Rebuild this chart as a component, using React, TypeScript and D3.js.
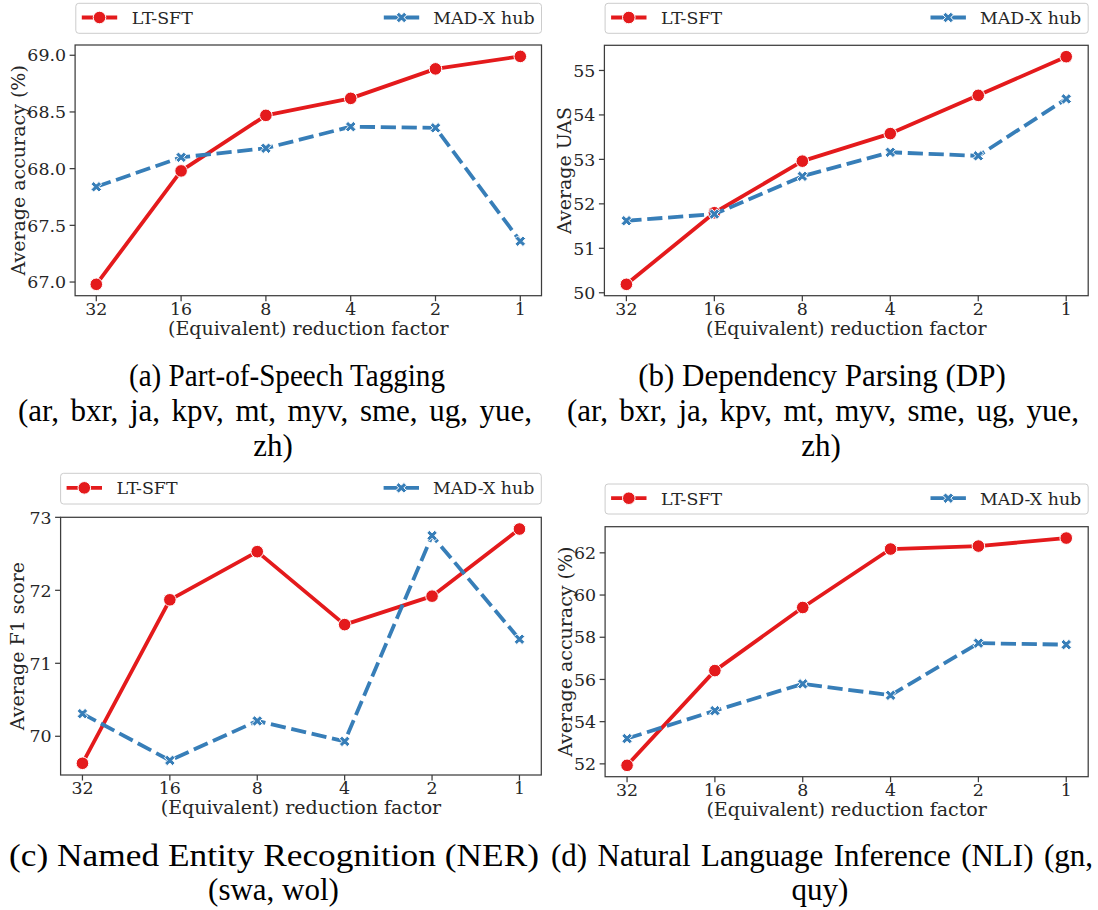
import React, { useLayoutEffect, useRef } from "react";
import * as d3 from "d3";

// Reduction factors on the x axis (categorical, left to right)
const FACTORS = ["32", "16", "8", "4", "2", "1"];
const SERIES = ["LT-SFT", "MAD-X hub"];

// (a) Part-of-Speech tagging, average accuracy (%)
const POS_LT_SFT = [66.98, 67.98, 68.47, 68.62, 68.88, 68.99];
const POS_MADX = [67.84, 68.1, 68.18, 68.37, 68.36, 67.36];
const POS_TICKS = [67.0, 67.5, 68.0, 68.5, 69.0];

// (b) Dependency parsing, average UAS
const DP_LT_SFT = [50.19, 51.8, 52.96, 53.58, 54.44, 55.31];
const DP_MADX = [51.62, 51.77, 52.62, 53.16, 53.08, 54.36];
const DP_TICKS = [50, 51, 52, 53, 54, 55];

// (c) Named entity recognition, average F1
const NER_LT_SFT = [69.63, 71.87, 72.53, 71.53, 71.92, 72.84];
const NER_MADX = [70.31, 69.67, 70.21, 69.93, 72.75, 71.33];
const NER_TICKS = [70, 71, 72, 73];

// (d) Natural language inference, average accuracy (%)
const NLI_LT_SFT = [51.93, 56.42, 59.41, 62.18, 62.32, 62.7];
const NLI_MADX = [53.2, 54.52, 55.79, 55.25, 57.72, 57.65];
const NLI_TICKS = [52, 54, 56, 58, 60, 62];

const X_LABEL = "(Equivalent) reduction factor";
const Y_LABELS = ["Average accuracy (%)", "Average UAS", "Average F1 score", "Average accuracy (%)"];
const CAPTIONS = [
  ["(a) Part-of-Speech Tagging", "(ar, bxr, ja, kpv, mt, myv, sme, ug, yue,", "zh)"],
  ["(b) Dependency Parsing (DP)", "(ar, bxr, ja, kpv, mt, myv, sme, ug, yue,", "zh)"],
  ["(c) Named Entity Recognition (NER)", "(swa, wol)"],
  ["(d) Natural Language Inference (NLI) (gn,", "quy)"],
];

const RED = "#e41a1c";
const BLUE = "#377eb8";
const INK = "#262626";
const SPINE = "#3d3d3d";
const CHART_FONT = "DejaVu Serif";
const CAPTION_FONT = "Liberation Serif";
const TICK_SIZE = 17.4;
const LABEL_SIZE = 19;
const CAPTION_SIZE = 31;
const LINE_W = 3.8;

type Box = [number, number, number, number]; // x0, y0, x1, y1
// centre x, baseline y, target width (0 = natural), mode: 0 natural, 1 justify word gaps, 2 fit glyphs
type CaptionLine = [number, number, number, number];

interface PanelSpec {
  lt: number[];
  mad: number[];
  ticks: number[];
  fmt: string;
  yLabel: string;
  caption: string[];
  frame: Box;
  legend: Box;
  yLabelX: number;
  captionPos: CaptionLine[];
}

const PANELS: PanelSpec[] = [
  {
    lt: POS_LT_SFT, mad: POS_MADX, ticks: POS_TICKS, fmt: ".1f", yLabel: Y_LABELS[0], caption: CAPTIONS[0],
    frame: [75.1, 45, 541.5, 295.7], legend: [75.8, 3.3, 541.5, 33.3], yLabelX: 19.4,
    captionPos: [[287, 386, 316, 2], [275, 421, 514, 1], [273, 456, 0, 0]],
  },
  {
    lt: DP_LT_SFT, mad: DP_MADX, ticks: DP_TICKS, fmt: "d", yLabel: Y_LABELS[1], caption: CAPTIONS[1],
    frame: [604.4, 45.3, 1088.2, 295.7], legend: [605.1, 3.3, 1088.2, 33.3], yLabelX: 565.6,
    captionPos: [[822, 386, 0, 0], [823, 421, 512, 1], [821, 456, 0, 0]],
  },
  {
    lt: NER_LT_SFT, mad: NER_MADX, ticks: NER_TICKS, fmt: "d", yLabel: Y_LABELS[2], caption: CAPTIONS[2],
    frame: [60.6, 517.3, 541.3, 775], legend: [60.6, 473.3, 541.3, 504], yLabelX: 18.5,
    captionPos: [[274, 866, 530, 2], [273.5, 900, 0, 0]],
  },
  {
    lt: NLI_LT_SFT, mad: NLI_MADX, ticks: NLI_TICKS, fmt: "d", yLabel: Y_LABELS[3], caption: CAPTIONS[3],
    frame: [605.1, 526.7, 1088.2, 776.7], legend: [605.1, 484, 1088.2, 514], yLabelX: 566,
    captionPos: [[822, 866, 542, 1], [820, 900, 0, 0]],
  },
];

// Filled "X" marker: a plus of arm width 1/3, rotated by 45 degrees.
function xMarker(cx: number, cy: number, size: number): string {
  const base: [number, number][] = [
    [1, 0], [2, 0], [2, 1], [3, 1], [3, 2], [2, 2], [2, 3], [1, 3], [1, 2], [0, 2], [0, 1], [1, 1],
  ];
  const s = Math.SQRT1_2;
  const pts = base.map(([x, y]) => {
    const u = (x / 3 - 0.5) * size;
    const v = (y / 3 - 0.5) * size;
    return [cx + (u - v) * s, cy + (u + v) * s];
  });
  return "M" + pts.map((p) => p[0].toFixed(2) + "," + p[1].toFixed(2)).join("L") + "Z";
}

// A caption line: natural, justified across word gaps, or fitted to a width.
function CaptionText({ text, pos }: { text: string; pos: CaptionLine }) {
  const ref = useRef<SVGTextElement>(null);
  const [cx, by, w, mode] = pos;
  useLayoutEffect(() => {
    const el = ref.current;
    if (!el || mode !== 1) return;
    el.setAttribute("word-spacing", "0");
    const natural = el.getComputedTextLength();
    const gaps = (text.match(/ /g) || []).length;
    if (gaps > 0) el.setAttribute("word-spacing", ((w - natural) / gaps).toFixed(2));
  }, [text, w, mode]);
  const style = { fontFamily: CAPTION_FONT, fontSize: CAPTION_SIZE };
  if (mode === 1) {
    return (
      <text ref={ref} x={cx - w / 2} y={by} style={style} fill="black">
        {text}
      </text>
    );
  }
  if (mode === 2) {
    return (
      <text x={cx - w / 2} y={by} textLength={w} lengthAdjust="spacingAndGlyphs" style={style} fill="black">
        {text}
      </text>
    );
  }
  return (
    <text x={cx} y={by} textAnchor="middle" style={style} fill="black">
      {text}
    </text>
  );
}

function Legend({ box }: { box: Box }) {
  const [x0, y0, x1, y1] = box;
  const cy = (y0 + y1) / 2 - 0.8;
  const h1 = x0 + 6;
  const h2 = x1 - 157.7;
  const hl = 35.4;
  const style = { fontFamily: CHART_FONT, fontSize: TICK_SIZE };
  return (
    <g>
      <rect x={x0} y={y0} width={x1 - x0} height={y1 - y0} rx={3} fill="white" fillOpacity={0.8} stroke="#cccccc" strokeWidth={1} />
      <line x1={h1} x2={h1 + hl} y1={cy} y2={cy} stroke={RED} strokeWidth={LINE_W} />
      <circle cx={h1 + hl / 2} cy={cy} r={6.3} fill={RED} stroke="white" strokeWidth={1} />
      <text x={h1 + 50} y={cy + 6.3} style={style} fill={INK}>{SERIES[0]}</text>
      <line x1={h2} x2={h2 + hl} y1={cy} y2={cy} stroke={BLUE} strokeWidth={LINE_W} strokeDasharray={`${4 * LINE_W},${1.5 * LINE_W}`} />
      <path d={xMarker(h2 + hl / 2, cy, 11.2)} fill={BLUE} stroke="white" strokeWidth={1} />
      <text x={h2 + 49.4} y={cy + 6.3} style={style} fill={INK}>{SERIES[1]}</text>
    </g>
  );
}

function Panel({ p }: { p: PanelSpec }) {
  const [x0, y0, x1, y1] = p.frame;
  const x = d3.scalePoint<string>().domain(FACTORS).range([x0, x1]).padding(0.25);
  const all = p.lt.concat(p.mad);
  const lo = d3.min(all) as number;
  const hi = d3.max(all) as number;
  const pad = (hi - lo) * 0.05;
  const y = d3.scaleLinear().domain([lo - pad, hi + pad]).range([y1, y0]);
  const line = d3
    .line<number>()
    .x((_, i) => x(FACTORS[i]) as number)
    .y((d) => y(d));
  const fmt = d3.format(p.fmt);
  const tickLen = 5.5;
  const tickStyle = { fontFamily: CHART_FONT, fontSize: TICK_SIZE };
  const labelStyle = { fontFamily: CHART_FONT, fontSize: LABEL_SIZE };

  return (
    <g>
      <Legend box={p.legend} />
      {/* axis frame */}
      <rect x={x0} y={y0} width={x1 - x0} height={y1 - y0} fill="none" stroke={SPINE} strokeWidth={1.25} />
      {/* y ticks */}
      {p.ticks.map((t) => (
        <g key={"y" + t}>
          <line x1={x0 - tickLen} x2={x0} y1={y(t)} y2={y(t)} stroke={SPINE} strokeWidth={1.25} />
          <text x={x0 - tickLen - 3.5} y={y(t) + 6.2} textAnchor="end" style={tickStyle} fill={INK}>
            {fmt(t)}
          </text>
        </g>
      ))}
      {/* x ticks */}
      {FACTORS.map((f) => (
        <g key={"x" + f}>
          <line x1={x(f)} x2={x(f)} y1={y1} y2={y1 + tickLen} stroke={SPINE} strokeWidth={1.25} />
          <text x={x(f)} y={y1 + 19} textAnchor="middle" style={tickStyle} fill={INK}>
            {f}
          </text>
        </g>
      ))}
      <text x={(x0 + x1) / 2} y={y1 + 39} textAnchor="middle" style={labelStyle} fill={INK}>
        {X_LABEL}
      </text>
      <text
        transform={`translate(${p.yLabelX + 5.7},${(y0 + y1) / 2}) rotate(-90)`}
        textAnchor="middle"
        style={labelStyle}
        fill={INK}
      >
        {p.yLabel}
      </text>
      {/* LT-SFT: solid line with round markers */}
      <path d={line(p.lt) || ""} fill="none" stroke={RED} strokeWidth={LINE_W} strokeLinejoin="round" strokeLinecap="square" />
      {p.lt.map((v, i) => (
        <circle key={"c" + i} cx={x(FACTORS[i])} cy={y(v)} r={6.3} fill={RED} stroke="white" strokeWidth={1} />
      ))}
      {/* MAD-X hub: dashed line with X markers */}
      <path
        d={line(p.mad) || ""}
        fill="none"
        stroke={BLUE}
        strokeWidth={LINE_W}
        strokeLinejoin="round"
        strokeDasharray={`${4 * LINE_W},${1.5 * LINE_W}`}
      />
      {p.mad.map((v, i) => (
        <path key={"m" + i} d={xMarker(x(FACTORS[i]) as number, y(v), 11.2)} fill={BLUE} stroke="white" strokeWidth={1} />
      ))}
      {/* caption */}
      {p.caption.map((txt, i) => (
        <CaptionText key={"cap" + i} text={txt} pos={p.captionPos[i]} />
      ))}
    </g>
  );
}

export default function App() {
  return (
    <svg
      width={1098}
      height={910}
      viewBox="0 0 1098 910"
      style={{ position: "absolute", left: 0, top: 0, background: "white" }}
    >
      <rect width={1098} height={910} fill="white" />
      {PANELS.map((p, i) => (
        <Panel key={i} p={p} />
      ))}
    </svg>
  );
}
